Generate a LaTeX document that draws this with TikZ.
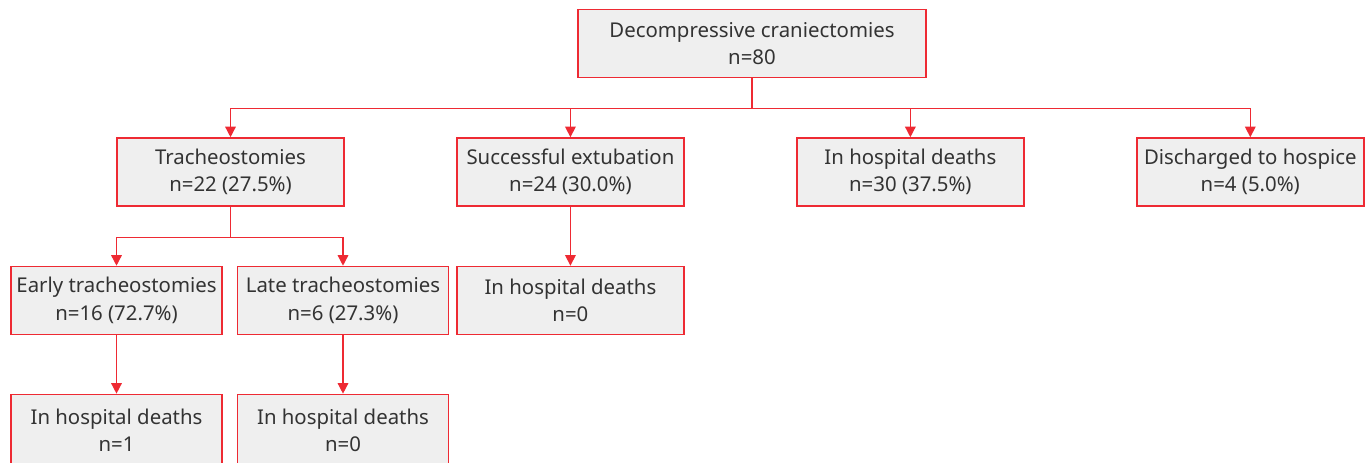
\documentclass[tikz,border=0pt]{standalone}
\usepackage{fontspec}
\setmainfont{Noto Sans}
\usetikzlibrary{arrows.meta,positioning,calc}
\definecolor{boxred}{HTML}{EE2A33}
\definecolor{boxgray}{HTML}{EFEFEF}
\definecolor{txtgray}{HTML}{333333}

\tikzset{
  box/.style={draw=boxred, fill=boxgray, line width=0.9pt, text=txtgray,
    minimum width=4.54cm, minimum height=1.36cm, align=center,
    font=\fontsize{11.6pt}{15.6pt}\selectfont, inner sep=2pt},
  smallbox/.style={box, minimum width=4.22cm},
  link/.style={draw=boxred, line width=0.8pt},
  arr/.style={link, -{Triangle[length=6pt,width=6pt]}}
}

\begin{document}
\begin{tikzpicture}[x=0.02cm,y=-0.02cm,on grid,node distance=2.57cm and 6.8cm]
  \clip (0,0) rectangle (1370,463);
  \fill[white] (0,0) rectangle (1370,463);

  \node[box, minimum width=6.96cm] (dc) at (752,43.5) {Decompressive craniectomies\\n=80};

  \node[box] (trach) at (230.5,172) {Tracheostomies\\n=22 (27.5\%)};
  \node[box] (extub) [right=of trach] {Successful extubation\\n=24 (30.0\%)};
  \node[box] (death) [right=of extub] {In hospital deaths\\n=30 (37.5\%)};
  \node[box] (hosp)  [right=of death] {Discharged to hospice\\n=4 (5.0\%)};

  \node[smallbox] (early) at (116.5,300.5) {Early tracheostomies\\n=16 (72.7\%)};
  \node[smallbox] (late)  at (343,300.5) {Late tracheostomies\\n=6 (27.3\%)};
  \node[box] (exdeath) [below=of extub] {In hospital deaths\\n=0};

  \node[smallbox, minimum height=1.44cm] (edeath) [below=2.6cm of early] {In hospital deaths\\n=1};
  \node[smallbox, minimum height=1.44cm] (ldeath) [below=2.6cm of late] {In hospital deaths\\n=0};

  % branching points
  \coordinate (split) at ($(dc.south)+(0,30)$);
  \coordinate (tsplit) at ($(trach.south)+(0,31)$);

  \draw[link] (dc.south) -- (split);
  \draw[arr] (split) -| (trach.north);
  \draw[arr] (split) -| (extub.north);
  \draw[arr] (split) -| (death.north);
  \draw[arr] (split) -| (hosp.north);

  \draw[link] (trach.south) -- (tsplit);
  \draw[arr] (tsplit) -| (early.north);
  \draw[arr] (tsplit) -| (late.north);
  \draw[arr] (extub) -- (exdeath);

  \draw[arr] (early) -- (edeath);
  \draw[arr] (late) -- (ldeath);
\end{tikzpicture}
\end{document}
